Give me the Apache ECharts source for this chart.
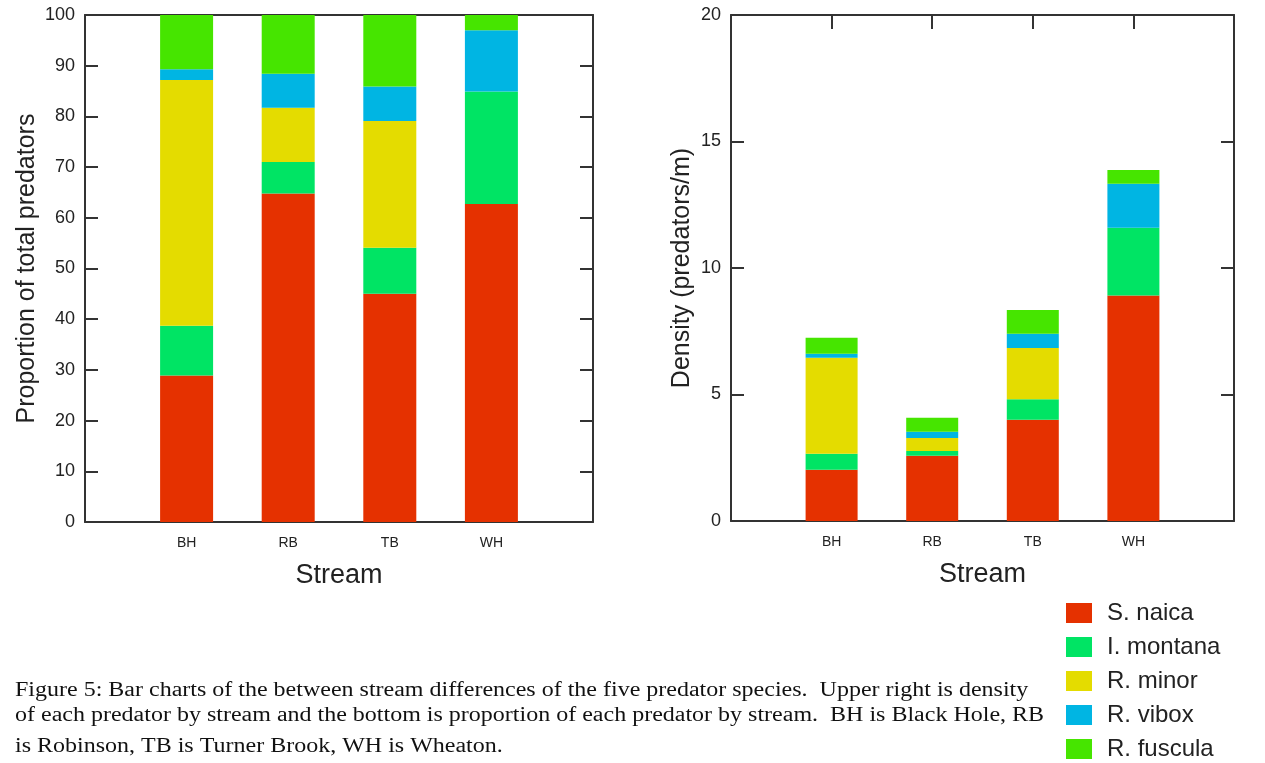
<!DOCTYPE html>
<html>
<head>
<meta charset="utf-8">
<script src="https://cdn.jsdelivr.net/npm/echarts@6/dist/echarts.min.js"></script>
<style>
html,body{margin:0;padding:0;background:#fff;}
#chart{width:1265px;height:763px;}
</style>
</head>
<body>
<div id="chart"></div>
<script>
// ---- data ----
const streams = ['BH', 'RB', 'TB', 'WH'];
const species = ['S. naica', 'I. montana', 'R. minor', 'R. vibox', 'R. fuscula'];
const colors = ['#E53100', '#00E464', '#E4DC00', '#00B5E3', '#46E500'];

// Proportion of total predators (%)
const propSNaica   = [28.9, 64.8, 45.0, 62.7];
const propIMontana = [9.8, 6.2, 9.1, 22.2];
const propRMinor   = [48.5, 10.7, 25.0, 0];
const propRVibox   = [2.1, 6.7, 6.8, 12.1];
const propRFuscula = [10.7, 11.6, 14.3, 3.0];

// Density (predators/m)
const densSNaica   = [2.03, 2.58, 4.00, 8.91];
const densIMontana = [0.63, 0.19, 0.81, 2.68];
const densRMinor   = [3.79, 0.51, 2.03, 0];
const densRVibox   = [0.16, 0.25, 0.56, 1.74];
const densRFuscula = [0.63, 0.55, 0.94, 0.54];

const propTicks = [0, 10, 20, 30, 40, 50, 60, 70, 80, 90, 100];
const densTicks = [0, 5, 10, 15, 20];

const captionLines = [
  'Figure 5: Bar charts of the between stream differences of the five predator species.  Upper right is density',
  'of each predator by stream and the bottom is proportion of each predator by stream.  BH is Black Hole, RB',
  'is Robinson, TB is Turner Brook, WH is Wheaton.'
];

// ---- chart ----
const propData = [propSNaica, propIMontana, propRMinor, propRVibox, propRFuscula];
const densData = [densSNaica, densIMontana, densRMinor, densRVibox, densRFuscula];

// the axis runs from an empty slot before the first stream to an empty slot after the last
const axisCats = [''].concat(streams, ['']);
function padded(arr) { return ['-'].concat(arr, ['-']); }

const AX = '#333';
const FONT = '"Liberation Sans", Arial, sans-serif';

function xBottom(gridIndex) {
  return {
    type: 'category', gridIndex: gridIndex, position: 'bottom',
    data: axisCats, boundaryGap: false,
    axisLine: {show: true, onZero: false, lineStyle: {color: AX, width: 2}},
    axisTick: {show: false},
    splitLine: {show: false},
    axisLabel: {margin: 14, fontSize: 14, color: '#222', fontFamily: FONT, interval: 0},
    name: 'Stream', nameLocation: 'middle', nameGap: 40,
    nameTextStyle: {fontSize: 27, color: '#222', fontFamily: FONT}
  };
}
function xTop(gridIndex, ticks) {
  return {
    type: 'category', gridIndex: gridIndex, position: 'top',
    data: axisCats, boundaryGap: false,
    axisLine: {show: true, onZero: false, lineStyle: {color: AX, width: 2}},
    axisTick: {show: ticks, inside: true, length: 14, interval: 0, lineStyle: {color: AX, width: 2}},
    splitLine: {show: false},
    axisLabel: {show: false}
  };
}
function yLeft(gridIndex, ticks, name, gap) {
  const step = ticks[1] - ticks[0];
  return {
    type: 'value', gridIndex: gridIndex, position: 'left',
    min: ticks[0], max: ticks[ticks.length - 1], interval: step,
    axisLine: {show: true, onZero: false, lineStyle: {color: AX, width: 2}},
    axisTick: {show: true, inside: true, length: 13, lineStyle: {color: AX, width: 2}},
    splitLine: {show: false},
    axisLabel: {margin: 10, fontSize: 18, color: '#222', fontFamily: FONT},
    name: name, nameLocation: 'middle', nameGap: gap,
    nameTextStyle: {fontSize: 25, color: '#222', fontFamily: FONT}
  };
}
function yRight(gridIndex, ticks) {
  const step = ticks[1] - ticks[0];
  return {
    type: 'value', gridIndex: gridIndex, position: 'right',
    min: ticks[0], max: ticks[ticks.length - 1], interval: step,
    axisLine: {show: true, onZero: false, lineStyle: {color: AX, width: 2}},
    axisTick: {show: true, inside: true, length: 13, lineStyle: {color: AX, width: 2}},
    splitLine: {show: false},
    axisLabel: {show: false}
  };
}

const series = [];
species.forEach(function (sp, k) {
  series.push({
    name: sp, type: 'bar', stack: 'prop', xAxisIndex: 0, yAxisIndex: 0,
    barWidth: 53,
    itemStyle: {color: colors[k]},
    data: padded(propData[k])
  });
  series.push({
    name: sp, type: 'bar', stack: 'dens', xAxisIndex: 2, yAxisIndex: 2,
    barWidth: 52,
    itemStyle: {color: colors[k]},
    data: padded(densData[k])
  });
});

const graphics = [];
const capTops = [681, 706, 737];
captionLines.forEach(function (t, i) {
  graphics.push({
    type: 'text', left: 15, top: capTops[i], scaleX: 1.2, originX: 0, originY: 0,
    style: {text: t, font: '20px "Liberation Serif", "Times New Roman", serif', fill: '#111'}
  });
});

const chart = echarts.init(document.getElementById('chart'), null, {renderer: 'canvas'});
chart.setOption({
  backgroundColor: '#fff',
  animation: false,
  grid: [
    {left: 85, top: 15, width: 508, height: 507},
    {left: 731, top: 15, width: 503, height: 506}
  ],
  xAxis: [xBottom(0), xTop(0, false), xBottom(1), xTop(1, true)],
  yAxis: [
    yLeft(0, propTicks, 'Proportion of total predators', 45),
    yRight(0, propTicks),
    yLeft(1, densTicks, 'Density (predators/m)', 36),
    yRight(1, densTicks)
  ],
  legend: {
    orient: 'vertical', left: 1066, top: 601, padding: 0,
    itemWidth: 26, itemHeight: 20, itemGap: 10,
    icon: 'rect', selectedMode: false,
    data: species,
    textStyle: {fontSize: 24, lineHeight: 24, color: '#222', fontFamily: FONT, padding: [0, 0, 0, 10]}
  },
  graphic: graphics,
  series: series
});
</script>
</body>
</html>
